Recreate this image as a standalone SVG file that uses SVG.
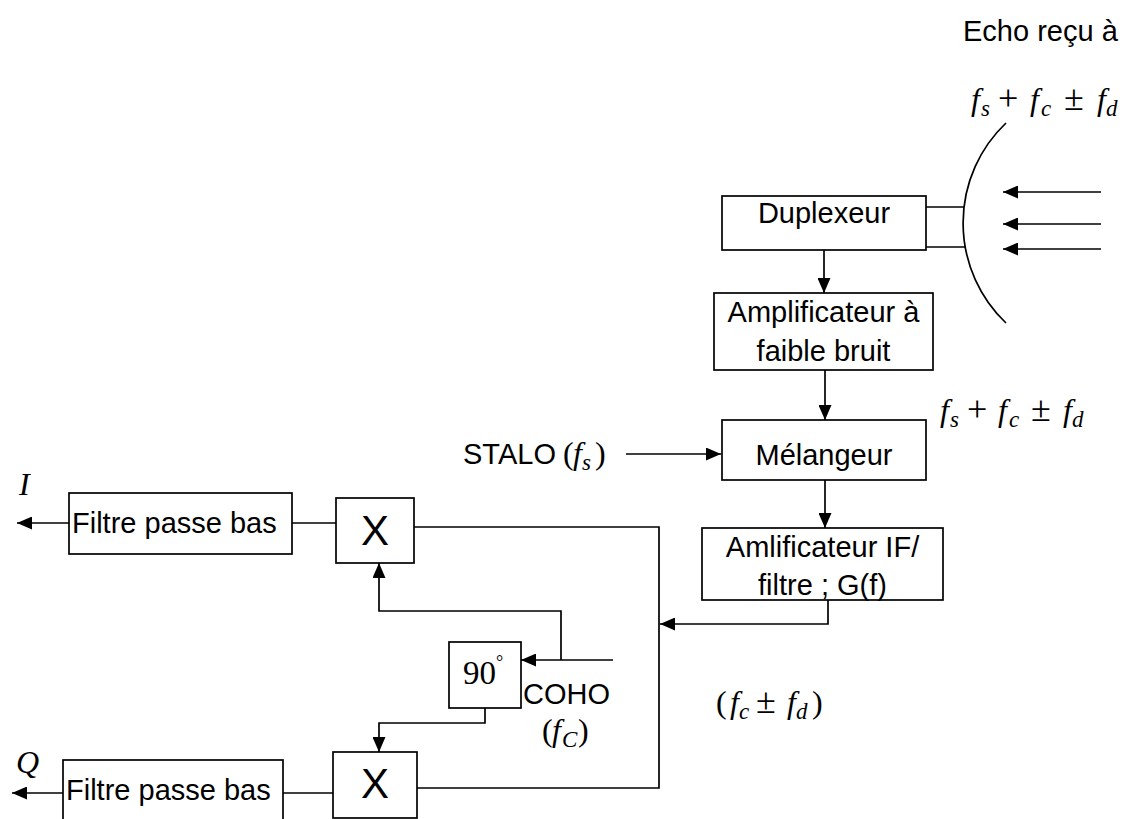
<svg xmlns="http://www.w3.org/2000/svg" width="1138" height="819" viewBox="0 0 1138 819">
<style>
.bx{fill:#fff;stroke:#000;stroke-width:1.7}
.ln{fill:none;stroke:#000;stroke-width:1.7}
.t{font-family:"Liberation Sans",Arial,sans-serif;font-size:29px;fill:#000}
.m{font-family:"Liberation Serif","DejaVu Serif",serif;font-size:32px;fill:#000}
.i{font-style:italic}
.s{font-style:italic;font-size:23px}
.o{font-size:36px}
</style>
<defs>
<marker id="ah" viewBox="0 0 15 13" refX="15" refY="6.5" markerWidth="15" markerHeight="13" markerUnits="userSpaceOnUse" orient="auto">
<path d="M0,0 L15,6.5 L0,13 z" fill="#000"/>
</marker>
</defs>
<rect width="1138" height="819" fill="#fff"/>

<g id="labels">
<text class="t" x="963" y="41">Echo reçu à</text>
<text class="m" y="110"><tspan class="i" x="971">f</tspan><tspan class="s" x="981" dy="6">s</tspan><tspan class="o" x="998" dy="-6">+</tspan><tspan class="i" x="1030">f</tspan><tspan class="s" x="1041" dy="6">c</tspan><tspan class="o" x="1064" dy="-6">±</tspan><tspan class="i" x="1097">f</tspan><tspan class="s" x="1106" dy="6">d</tspan></text>
<text class="m" y="421"><tspan class="i" x="940">f</tspan><tspan class="s" x="950" dy="6">s</tspan><tspan class="o" x="967" dy="-6">+</tspan><tspan class="i" x="998">f</tspan><tspan class="s" x="1009" dy="6">c</tspan><tspan class="o" x="1031" dy="-6">±</tspan><tspan class="i" x="1063">f</tspan><tspan class="s" x="1072" dy="6">d</tspan></text>
<text class="t" x="463" y="464">STALO</text>
<text class="m" y="464"><tspan x="563">(</tspan><tspan class="i" x="573">f</tspan><tspan class="s" x="582" dy="6">s</tspan><tspan x="595" dy="-6">)</tspan></text>
<text class="t" x="523" y="704">COHO</text>
<text class="m" y="741"><tspan x="542">(</tspan><tspan class="i" x="552">f</tspan><tspan class="s" x="562" dy="6">C</tspan><tspan x="578" dy="-6">)</tspan></text>
<text class="m" y="713"><tspan x="716">(</tspan><tspan class="i" x="730">f</tspan><tspan class="s" x="739" dy="6">c</tspan><tspan class="o" x="756" dy="-6">±</tspan><tspan class="i" x="787">f</tspan><tspan class="s" x="796" dy="6">d</tspan><tspan x="812" dy="-6">)</tspan></text>
<text class="m i" x="19" y="495">I</text>
<text class="m i" x="16" y="773">Q</text>
</g>

<g id="antenna">
<path class="ln" d="M1006,123 A138,138 0 0 0 1006,323"/>
</g>

<g id="duplexeur">
<rect class="bx" x="722" y="196" width="204" height="54"/>
<text class="t" x="824" y="223" text-anchor="middle">Duplexeur</text>
</g>

<g id="lna">
<rect class="bx" x="714" y="293" width="219" height="77"/>
<text class="t" x="823.5" y="322" text-anchor="middle">Amplificateur à</text>
<text class="t" x="823.5" y="361" text-anchor="middle">faible bruit</text>
</g>

<g id="melangeur">
<rect class="bx" x="722" y="420" width="204" height="60"/>
<text class="t" x="824" y="465" text-anchor="middle">Mélangeur</text>
</g>

<g id="ampif">
<rect class="bx" x="702" y="528" width="241" height="72"/>
<text class="t" x="822.5" y="557" text-anchor="middle">Amlificateur IF/</text>
<text class="t" x="822.5" y="595" text-anchor="middle">filtre ; G(f)</text>
</g>

<g id="filtreI">
<rect class="bx" x="69" y="493" width="223" height="61"/>
<text class="t" x="72" y="533">Filtre passe bas</text>
</g>

<g id="mixI">
<rect class="bx" x="336" y="498" width="78" height="65"/>
<text class="t" x="375" y="545" text-anchor="middle" style="font-size:42px">X</text>
</g>

<g id="dephaseur">
<rect class="bx" x="449" y="642" width="72" height="66"/>
<text class="m" x="463" y="684" style="font-size:33px">90<tspan font-size="18" dy="-16">°</tspan></text>
</g>

<g id="mixQ">
<rect class="bx" x="333" y="752" width="84" height="66"/>
<text class="t" x="375" y="798" text-anchor="middle" style="font-size:42px">X</text>
</g>

<g id="filtreQ">
<rect class="bx" x="63" y="760" width="220" height="70"/>
<text class="t" x="66" y="800">Filtre passe bas</text>
</g>

<g id="connectors">
<line class="ln" x1="1101" y1="192" x2="1003" y2="192" marker-end="url(#ah)"/>
<line class="ln" x1="1101" y1="224" x2="1003" y2="224" marker-end="url(#ah)"/>
<line class="ln" x1="1101" y1="249" x2="1003" y2="249" marker-end="url(#ah)"/>
<line class="ln" x1="926" y1="207" x2="964" y2="207"/>
<line class="ln" x1="926" y1="247" x2="965" y2="247"/>
<line class="ln" x1="824" y1="250" x2="824" y2="293" marker-end="url(#ah)"/>
<line class="ln" x1="825" y1="370" x2="825" y2="420" marker-end="url(#ah)"/>
<line class="ln" x1="626" y1="454" x2="721" y2="454" marker-end="url(#ah)"/>
<line class="ln" x1="825" y1="480" x2="825" y2="528" marker-end="url(#ah)"/>
<polyline class="ln" points="828,600 828,624 660,624" marker-end="url(#ah)"/>
<polyline class="ln" points="414,527 659,527 659,788 417,788"/>
<line class="ln" x1="292" y1="523" x2="336" y2="523"/>
<line class="ln" x1="69" y1="523" x2="17" y2="523" marker-end="url(#ah)"/>
<line class="ln" x1="613" y1="660" x2="521" y2="660" marker-end="url(#ah)"/>
<polyline class="ln" points="561,660 561,611 379,611 379,563" marker-end="url(#ah)"/>
<polyline class="ln" points="485,708 485,723 379,723 379,752" marker-end="url(#ah)"/>
<line class="ln" x1="283" y1="793" x2="333" y2="793"/>
<line class="ln" x1="63" y1="793" x2="12" y2="793" marker-end="url(#ah)"/>
</g>
</svg>
